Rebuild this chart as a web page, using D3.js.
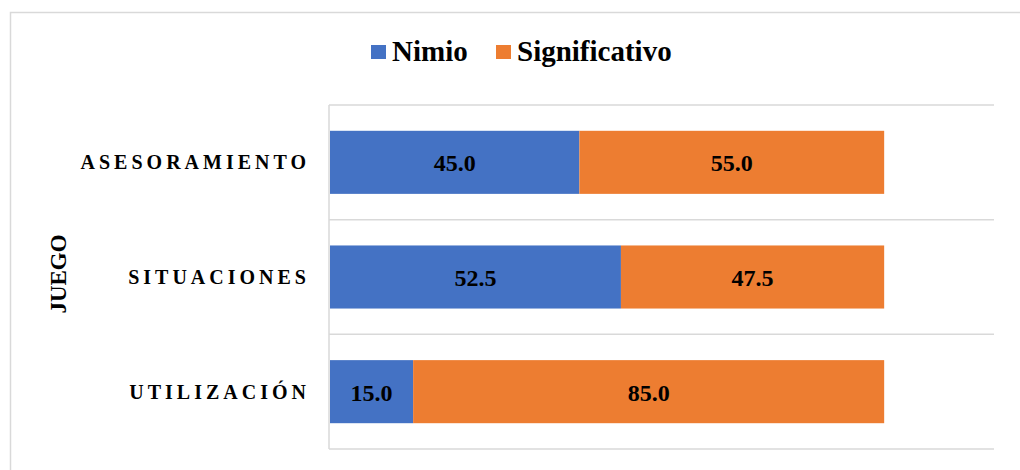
<!DOCTYPE html>
<html>
<head>
<meta charset="utf-8">
<script src="https://cdn.jsdelivr.net/npm/d3@7"></script>
<style>
html,body{margin:0;padding:0;background:#fff;}
svg{display:block;}
</style>
</head>
<body>
<svg id="chart" width="1020" height="470"></svg>
<script>
const categories = ["ASESORAMIENTO", "SITUACIONES", "UTILIZACIÓN"];
const seriesNames = ["Nimio", "Significativo"];
const nimio = [45.0, 52.5, 15.0];
const significativo = [55.0, 47.5, 85.0];
const colors = ["#4472C4", "#ED7D31"];
const axisTitle = "JUEGO";
const xMax = 120;

const FONT = "'Liberation Serif', 'Times New Roman', Times, serif";
const svg = d3.select("#chart");

function styleText(sel, size) {
  return sel.attr("font-family", FONT).attr("font-weight", "bold").attr("fill", "#000")
    .attr("font-size", size + "px");
}

// outer chart border
svg.append("rect").attr("x", 10.5).attr("y", 12.5).attr("width", 1030).attr("height", 480)
  .attr("fill", "none").attr("stroke", "#d9d9d9").attr("stroke-width", 1.5);

const plot = {left: 329, right: 994, top: 105, bottom: 449};

const x = d3.scaleLinear().domain([0, xMax]).range([plot.left, plot.right]);
const y = d3.scaleBand().domain(categories).range([plot.top, plot.bottom])
  .paddingInner(0.45).paddingOuter(0.225);

// gridlines at category boundaries
const step = y.step();
const boundaries = d3.range(categories.length + 1).map(i => plot.top + i * step);
svg.append("g").selectAll("line").data(boundaries).join("line")
  .attr("x1", plot.left).attr("x2", plot.right)
  .attr("y1", d => d).attr("y2", d => d)
  .attr("stroke", "#d9d9d9").attr("stroke-width", 1.5);

// left axis line
svg.append("line").attr("x1", plot.left).attr("x2", plot.left)
  .attr("y1", plot.top).attr("y2", plot.bottom)
  .attr("stroke", "#d9d9d9").attr("stroke-width", 1.5);

// stacked data
const rows = categories.map((c, i) => ({cat: c, Nimio: nimio[i], Significativo: significativo[i]}));
const stacked = d3.stack().keys(seriesNames)(rows);

const g = svg.append("g");
stacked.forEach((layer, li) => {
  g.append("g").selectAll("rect").data(layer).join("rect")
    .attr("x", d => x(d[0]) + 1)
    .attr("y", d => y(d.data.cat))
    .attr("width", d => x(d[1]) - x(d[0]))
    .attr("height", y.bandwidth())
    .attr("fill", colors[li]);
  styleText(g.append("g").selectAll("text").data(layer).join("text"), 24)
    .attr("x", d => (x(d[0]) + x(d[1])) / 2 + 1)
    .attr("y", d => y(d.data.cat) + y.bandwidth() / 2 + 9)
    .attr("text-anchor", "middle")
    .text(d => (d[1] - d[0]).toFixed(1));
});

// category labels
const ls = 4;
styleText(svg.append("g").selectAll("text").data(categories).join("text"), 20)
  .attr("x", 306 + ls)
  .attr("y", d => y(d) + y.bandwidth() / 2 + 7)
  .attr("text-anchor", "end")
  .attr("letter-spacing", ls + "px")
  .text(d => d);

// axis title
styleText(svg.append("text"), 23)
  .attr("transform", `translate(66,${(plot.top + plot.bottom) / 2 - 3}) rotate(-90)`)
  .attr("text-anchor", "middle")
  .text(axisTitle);

// legend
const legendItems = [{name: seriesNames[0], color: colors[0], x: 371}, {name: seriesNames[1], color: colors[1], x: 496}];
const lg = svg.append("g");
legendItems.forEach(it => {
  lg.append("rect").attr("x", it.x).attr("y", 45).attr("width", 15).attr("height", 14).attr("fill", it.color);
  styleText(lg.append("text"), 29).attr("x", it.x + 21).attr("y", 60.5).text(it.name);
});
</script>
</body>
</html>
